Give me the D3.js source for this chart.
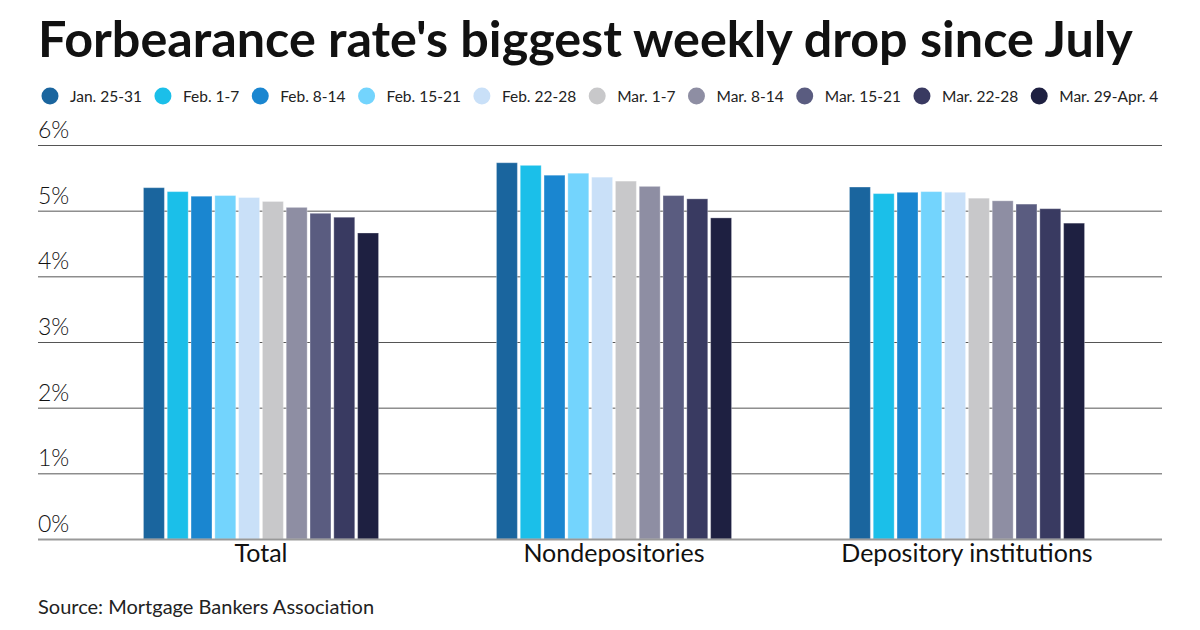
<!DOCTYPE html>
<html><head><meta charset="utf-8">
<script src="https://cdn.jsdelivr.net/npm/d3@7"></script>
<style>body{margin:0;background:#fff;} text{font-family:Lato, "Open Sans", sans-serif;}</style>
</head><body>
<svg id="c" width="1200" height="630"></svg>
<script>
const categories = ["Total", "Nondepositories", "Depository institutions"];
const weeks = ["Jan. 25-31","Feb. 1-7","Feb. 8-14","Feb. 15-21","Feb. 22-28","Mar. 1-7","Mar. 8-14","Mar. 15-21","Mar. 22-28","Mar. 29-Apr. 4"];
const totalValues = [5.35,5.29,5.22,5.23,5.20,5.14,5.05,4.96,4.90,4.66];
const nondepValues = [5.73,5.69,5.54,5.57,5.51,5.45,5.37,5.23,5.18,4.89];
const depValues = [5.36,5.26,5.28,5.29,5.28,5.19,5.15,5.10,5.03,4.81];
const yTicks = [0,1,2,3,4,5,6];
const colors = ["#1a659e","#1bbfe9","#1a86d0","#73d4fd","#c9e0f8","#c8c8ca","#8e8ea3","#5a5c80","#393a61","#1e2041"];
const seriesByCat = [totalValues, nondepValues, depValues];

const svg = d3.select("#c");
const left = 38, right = 1162;
const y = d3.scaleLinear().domain([0,6]).range([539,145]);
const x0 = d3.scaleBand().domain(categories).range([84.5,1143.5]).paddingInner(0.334).paddingOuter(0.167);
const x1 = d3.scaleBand().domain(weeks).range([0, x0.bandwidth()]).paddingInner(0.12).paddingOuter(0);
const color = d3.scaleOrdinal().domain(weeks).range(colors);

// title
svg.append("text").attr("x",38).attr("y",57).attr("font-size",50.3).attr("font-weight",700).attr("fill","#111")
  .text("Forbearance rate's biggest weekly drop since July");

// legend
let cx = 50;
weeks.forEach((w,i)=>{
  svg.append("circle").attr("cx",cx).attr("cy",96).attr("r",8.5).attr("fill",color(w));
  const t = svg.append("text").attr("x",cx+20).attr("y",101.5).attr("font-size",15.5).attr("fill","#222").text(w);
  cx = cx + 20 + t.node().getComputedTextLength() + 21;
});

// gridlines
svg.append("g").selectAll("line").data(yTicks.filter(d=>d>0)).join("line")
  .attr("x1",left).attr("x2",right).attr("y1",d=>y(d)+0.5).attr("y2",d=>y(d)+0.5)
  .attr("stroke","#555").attr("stroke-width",1);
svg.append("g").selectAll("text").data(yTicks).join("text")
  .attr("x",left).attr("y",d=>y(d)-7).attr("font-size",23).attr("font-weight",300).attr("fill","#111")
  .text(d=>d+"%");

// bars
const g = svg.append("g");
categories.forEach((c,ci)=>{
  g.append("g").attr("transform",`translate(${x0(c)},0)`).selectAll("rect")
    .data(weeks.map((w,i)=>({w, v: seriesByCat[ci][i]}))).join("rect")
    .attr("x",d=>x1(d.w)).attr("width",x1.bandwidth())
    .attr("y",d=>y(d.v)).attr("height",d=>y(0)-y(d.v))
    .attr("fill",d=>color(d.w)).attr("stroke","rgba(255,255,255,0.3)").attr("stroke-width",1);
});

// baseline
svg.append("line").attr("x1",left).attr("x2",right).attr("y1",y(0)+0.5).attr("y2",y(0)+0.5)
  .attr("stroke","#999").attr("stroke-width",2);

// category labels
svg.append("g").selectAll("text").data(categories).join("text")
  .attr("x",d=>x0(d)+x0.bandwidth()/2).attr("y",562).attr("text-anchor","middle")
  .attr("font-size",25).attr("fill","#111").text(d=>d);

// source
svg.append("text").attr("x",38).attr("y",614).attr("font-size",20).attr("fill","#222")
  .text("Source: Mortgage Bankers Association");
</script>
</body></html>
